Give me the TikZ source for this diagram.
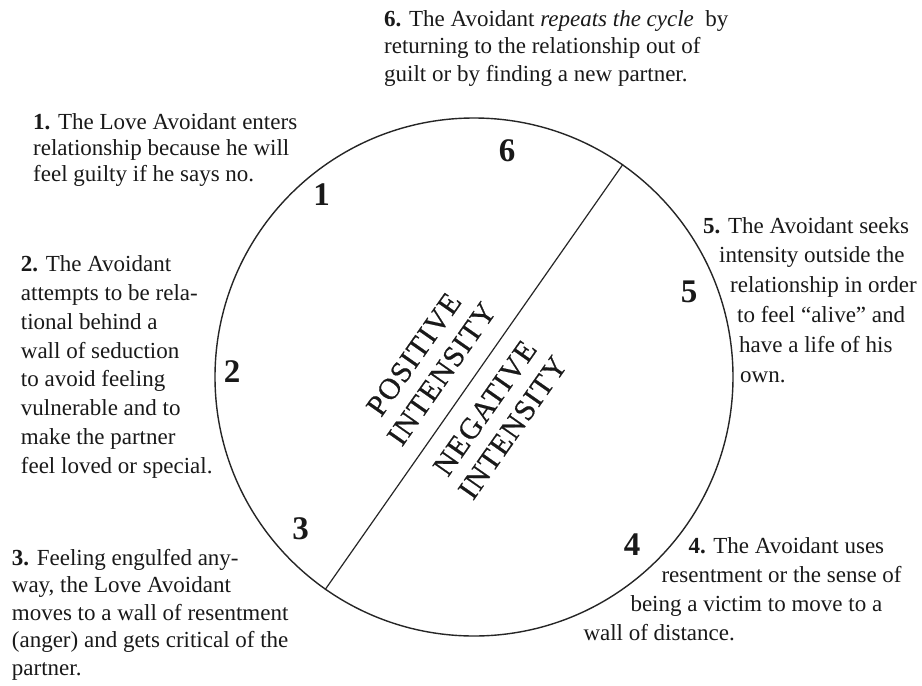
\documentclass[tikz,border=0pt]{standalone}
\usepackage{fontspec}
\setmainfont{Liberation Serif}
\newfontfamily\spacedfont[LetterSpace=4,FakeBold=0.6]{Liberation Serif}
\newcommand\txtblock[2]{\fontsize{23}{#1}\selectfont\vtop{#2}}
\tikzset{
  desc/.style={inner sep=0pt, anchor=base west, text=black!90},
  num/.style={inner sep=0pt, anchor=center, text=black!90, font=\fontsize{33}{33}\selectfont\bfseries},
  zone/.style={inner sep=0pt, anchor=center, align=center, rotate=55, text=black!90, font=\fontsize{30}{34}\spacedfont},
  ringstyle/.style={circle, draw=black!85, line width=1.4pt, inner sep=0pt, minimum size=518pt}
}
\begin{document}
\begin{tikzpicture}[x=1pt,y=1pt]
\useasboundingbox[fill=white] (0,0) rectangle (922,-686);
\node[ringstyle] (ring) at (474,-377) {};
\draw[draw=black!85, line width=1.2pt] (ring.55) -- (ring.235);

\node[zone] (pos) at (427.7,-364.1) {POSITIVE\\INTENSITY};
\node[zone] (neg) at (498.8,-417.8) {NEGATIVE\\INTENSITY};

\node[num] (n1) at (321.6,-194.6) {1};
\node[num] (n2) at (232,-372) {2};
\node[num] (n3) at (300.5,-528.5) {3};
\node[num] (n4) at (632,-545) {4};
\node[num] (n5) at (689,-292) {5};
\node[num] (n6) at (507,-151) {6};

\node[desc] (t6) at (384,-26) {\txtblock{27.5}{%
  \hbox{\textbf{6.} The Avoidant \textit{repeats the cycle}\ \ by}%
  \hbox{returning to the relationship out of}%
  \hbox{guilt or by finding a new partner.}}};

\node[desc] (t1) at (33,-129.3) {\txtblock{26.2}{%
  \hbox{\textbf{1.} The Love Avoidant enters}%
  \hbox{relationship because he will}%
  \hbox{feel guilty if he says no.}}};

\node[desc] (t2) at (20.7,-271.7) {\txtblock{28.8}{%
  \hbox{\textbf{2.} The Avoidant}%
  \hbox{attempts to be rela-}%
  \hbox{tional behind a}%
  \hbox{wall of seduction}%
  \hbox{to avoid feeling}%
  \hbox{vulnerable and to}%
  \hbox{make the partner}%
  \hbox{feel loved or special.}}};

\node[desc] (t3) at (11.7,-565) {\txtblock{27.5}{%
  \hbox{\textbf{3.} Feeling engulfed any-}%
  \hbox{way, the Love Avoidant}%
  \hbox{moves to a wall of resentment}%
  \hbox{(anger) and gets critical of the}%
  \hbox{partner.}}};

\node[desc] (t5) at (703,-233) {\txtblock{29.8}{%
  \hbox{\textbf{5.} The Avoidant seeks}%
  \hbox{\hskip16pt intensity outside the}%
  \hbox{\hskip27pt relationship in order}%
  \hbox{\hskip34pt to feel “alive” and}%
  \hbox{\hskip36pt have a life of his}%
  \hbox{\hskip37pt own.}}};

\node[desc] (t4) at (583.3,-553) {\txtblock{29}{%
  \hbox{\hskip105pt\textbf{4.} The Avoidant uses}%
  \hbox{\hskip78pt resentment or the sense of}%
  \hbox{\hskip47pt being a victim to move to a}%
  \hbox{wall of distance.}}};
\end{tikzpicture}
\end{document}
